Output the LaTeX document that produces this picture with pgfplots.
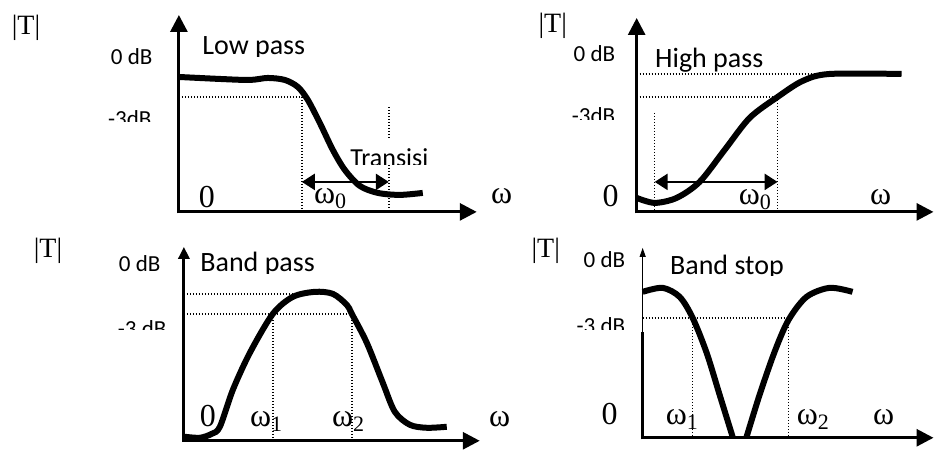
\documentclass[border=0pt]{standalone}
\usepackage{fontspec}
\setmainfont{Liberation Serif}
\newfontfamily\calfont{Carlito}
\usepackage{pgfplots}
\pgfplotsset{compat=1.18}
\usetikzlibrary{arrows.meta}

% sizes in bp, one bp = one pixel of the reference
\newcommand{\ttlfont}{\calfont\fontsize{28bp}{30bp}\selectfont}
\newcommand{\dbfont}{\calfont\fontsize{23bp}{25bp}\selectfont}
\newcommand{\tfont}{\fontsize{28bp}{30bp}\selectfont}
\newcommand{\symfont}{\fontsize{32bp}{34bp}\selectfont}
\newcommand{\om}[1]{ω\raisebox{-5bp}{\fontsize{22bp}{23bp}\selectfont #1}}

\tikzset{
  ttl/.style={font=\ttlfont},
  db/.style={font=\dbfont},
  tt/.style={font=\tfont},
  sym/.style={font=\symfont},
  ax/.style={line width=3bp, -{Triangle[length=17bp,width=17bp]}},
  axs/.style={line width=3bp, -{Triangle[length=12bp,width=11bp]}},
  dot/.style={line width=1.5bp, dash pattern=on 1.5bp off 1.5bp},
  crv/.style={line width=6bp, smooth, line join=round},
  dbl/.style={line width=2.5bp, {Triangle[length=13bp,width=16bp]}-{Triangle[length=13bp,width=16bp]}},
}

\begin{document}
\begin{tikzpicture}
\begin{axis}[
  hide axis, scale only axis,
  width=935bp, height=443bp,
  xmin=0, xmax=935, ymin=0, ymax=443,
  y dir=reverse, clip=false]
\path (axis cs:0,0) rectangle (axis cs:935,443);

% ---------- Low pass ----------
\node[anchor=base, tt] at (axis cs:26,35) {|T|};
\node[anchor=base east, db] at (axis cs:156,65) {0 dB};
\begin{scope}
  \clip (axis cs:190,20) rectangle (axis cs:320,57);
  \node[anchor=base west, ttl] at (axis cs:199,55) {Low pass};
\end{scope}
\begin{scope}
  \clip (axis cs:90,100) rectangle (axis cs:170,122);
  \node[anchor=base east, db] at (axis cs:155,127) {-3dB};
\end{scope}
\begin{scope}
  \clip (axis cs:340,130) rectangle (axis cs:440,165);
  \node[anchor=base west, font=\calfont\fontsize{26bp}{28bp}\selectfont] at (axis cs:347,167) {Transisi};
\end{scope}
\node[anchor=base, sym] at (axis cs:207,208) {0};
\node[anchor=base west, sym, inner xsep=0pt] at (axis cs:314,204) {\om{0}};
\node[anchor=base, sym] at (axis cs:502,204) {ω};
\draw[dot] (axis cs:179,97) -- (axis cs:302,97) -- (axis cs:302,212);
\draw[dot] (axis cs:389,107) -- (axis cs:389,138);
\draw[dot] (axis cs:389,165) -- (axis cs:389,212);
\draw[dbl] (axis cs:302,182) -- (axis cs:389,182);
\draw[ax] (axis cs:179,213.5) -- (axis cs:179,15);
\draw[ax] (axis cs:177.5,212) -- (axis cs:477,212);
\addplot[crv] coordinates {
  (179,77) (220,79) (250,80) (268,78) (285,80) (298,87) (308,100)
  (320,123) (333,150) (345,170) (360,186) (378,193) (400,195) (423,193)
};

% ---------- High pass ----------
\node[anchor=base, tt] at (axis cs:553,33) {|T|};
\node[anchor=base east, db] at (axis cs:619,62) {0 dB};
\node[anchor=base west, ttl] at (axis cs:652,68) {High pass};
\begin{scope}
  \clip (axis cs:550,100) rectangle (axis cs:630,120);
  \node[anchor=base east, db] at (axis cs:619,124) {-3dB};
\end{scope}
\node[anchor=base, sym] at (axis cs:611,207) {0};
\node[anchor=base west, sym, inner xsep=0pt] at (axis cs:739,205) {\om{0}};
\node[anchor=base, sym] at (axis cs:881,205) {ω};
\draw[dot] (axis cs:637,74) -- (axis cs:830,74);
\draw[dot] (axis cs:637,97) -- (axis cs:778,97) -- (axis cs:778,212);
\draw[dot] (axis cs:655,113) -- (axis cs:655,212);
\draw[dbl] (axis cs:655,182) -- (axis cs:778,182);
\draw[ax] (axis cs:637,213.5) -- (axis cs:637,18);
\draw[ax] (axis cs:635.5,212) -- (axis cs:934,212);
\addplot[crv] coordinates {
  (637,198) (655,203) (677,198) (700,182) (725,150) (750,118)
  (778,97) (803,81) (830,74) (902,74)
};

% ---------- Band pass ----------
\node[anchor=base, tt] at (axis cs:48,258) {|T|};
\node[anchor=base east, db] at (axis cs:164,272) {0 dB};
\begin{scope}
  \clip (axis cs:190,245) rectangle (axis cs:330,274);
  \node[anchor=base west, ttl] at (axis cs:197,272) {Band pass};
\end{scope}
\begin{scope}
  \clip (axis cs:100,310) rectangle (axis cs:180,330);
  \node[anchor=base east, db] at (axis cs:170,337) {-3 dB};
\end{scope}
\node[anchor=base, sym] at (axis cs:208,427) {0};
\node[anchor=base west, sym, inner xsep=0pt] at (axis cs:250,427) {\om{1}};
\node[anchor=base west, sym, inner xsep=0pt] at (axis cs:332,427) {\om{2}};
\node[anchor=base, sym] at (axis cs:500,427) {ω};
\draw[dot] (axis cs:184,294) -- (axis cs:300,294);
\draw[dot] (axis cs:184,314) -- (axis cs:352,314);
\draw[dot] (axis cs:273,314) -- (axis cs:273,441);
\draw[dot] (axis cs:352,314) -- (axis cs:352,441);
\draw[axs] (axis cs:184,442) -- (axis cs:184,247);
\draw[ax] (axis cs:182.5,441) -- (axis cs:480,441);
\addplot[crv] coordinates {
  (185,437) (200,438) (212,434) (220,427) (233,390) (250,353) (273,314)
  (293,297) (315,292) (333,294) (347,305) (352,314) (367,343) (383,383)
  (395,412) (410,425) (427,428) (447,427)
};

% ---------- Band stop ----------
\node[anchor=base, tt] at (axis cs:546,258) {|T|};
\node[anchor=base east, db] at (axis cs:629,268) {0 dB};
\begin{scope}
  \clip (axis cs:660,250) rectangle (axis cs:800,276);
  \node[anchor=base west, ttl] at (axis cs:667,275) {Band stop};
\end{scope}
\begin{scope}
  \clip (axis cs:560,310) rectangle (axis cs:640,330);
  \node[anchor=base east, db] at (axis cs:629,334) {-3 dB};
\end{scope}
\node[anchor=base, sym] at (axis cs:610,425) {0};
\node[anchor=base west, sym, inner xsep=0pt] at (axis cs:666,425) {\om{1}};
\node[anchor=base west, sym, inner xsep=0pt] at (axis cs:797,425) {\om{2}};
\node[anchor=base, sym] at (axis cs:884,425) {ω};
\draw[dot] (axis cs:643,318) -- (axis cs:790,318);
\draw[dot] (axis cs:693,318) -- (axis cs:693,438);
\draw[dot] (axis cs:789,318) -- (axis cs:789,438);
\draw[line width=1bp, -{Triangle[length=9bp,width=6bp]}] (axis cs:643,333) -- (axis cs:643,248);
\draw[line width=3bp] (axis cs:643,439.5) -- (axis cs:643,332);
\draw[ax] (axis cs:641.5,438) -- (axis cs:934,438);
\addplot[crv] coordinates {
  (643,292) (663,288) (680,297) (693,318) (707,353) (720,395) (733,437)
};
\addplot[crv] coordinates {
  (747,437) (760,395) (775,352) (789,320) (807,297) (830,288) (853,292)
};
\end{axis}
\end{tikzpicture}
\end{document}
